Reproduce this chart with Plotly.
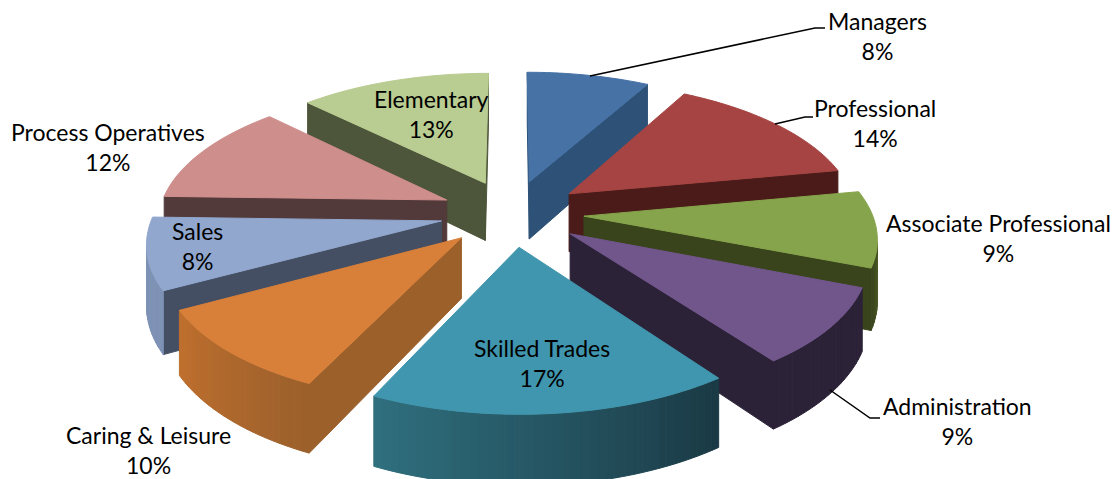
import math
import plotly.graph_objects as go

categories = ["Managers", "Professional", "Associate Professional", "Administration",
              "Skilled Trades", "Caring & Leisure", "Sales", "Process Operatives", "Elementary"]
values = [8, 14, 9, 9, 17, 10, 8.45, 12.05, 12.5]
top_colors = ["#4672A6", "#A54442", "#86A44B", "#71568C", "#4096AE", "#D8803A", "#91A7CE", "#CE8E8C", "#B9CC91"]
wall_colors = ["#2E5277", "#4A1B19", "#39431C", "#2C2238", "#1A3A45", "#9C602B", "#454F63", "#533A3A", "#4D553A"]
rim_start = ["#4672A6", "#A54442", "#6F8A3A", "#2C2238", "#30707F", "#C0702E", "#7E92B5", "#CE8E8C", "#9DB07A"]
rim_end = ["#2E5277", "#4A1B19", "#39431C", "#2C2238", "#1A3A45", "#9C602B", "#7E92B5", "#CE8E8C", "#9DB07A"]
label_xy = [(877, 36), (875, 123), (998, 238), (957, 421), (542, 363), (148, 450), (197, 246), (108, 147), (431, 114)]

CX, CY, SX, SY, K, H, EXPLODE = 512, 213, 288, 133, 0.14, 59, 0.25


def project(x, y, down):
    s = 1 / (1 + K * y)
    return CX + SX * x * s, CY - SY * y * s + down * H * s


def hexmix(a, b, t):
    pa = [int(a[i:i + 2], 16) for i in (1, 3, 5)]
    pb = [int(b[i:i + 2], 16) for i in (1, 3, 5)]
    return "rgb(%d,%d,%d)" % tuple(round(p + (q - p) * t) for p, q in zip(pa, pb))


def area(poly):
    return sum(poly[i][0] * poly[(i + 1) % len(poly)][1] - poly[(i + 1) % len(poly)][0] * poly[i][1]
               for i in range(len(poly))) / 2


fig = go.Figure()


def add_poly(poly, color):
    fig.add_trace(go.Scatter(
        x=[p[0] for p in poly] + [poly[0][0]], y=[p[1] for p in poly] + [poly[0][1]],
        mode="lines", fill="toself", fillcolor=color, line=dict(color=color, width=1, simplify=False),
        hoverinfo="skip", showlegend=False))


total = sum(values)
slices = []
cum = 0
for i, v in enumerate(values):
    a0 = 2 * math.pi * cum / total
    a1 = 2 * math.pi * (cum + v) / total
    cum += v
    mid = (a0 + a1) / 2
    slices.append((math.cos(mid), i, a0, a1, mid))

for _, i, a0, a1, mid in sorted(slices, reverse=True):
    ox, oy = EXPLODE * math.sin(mid), EXPLODE * math.cos(mid)
    n = max(6, int((a1 - a0) / math.radians(1.5)))
    angs = [a0 + (a1 - a0) * j / n for j in range(n + 1)]
    rim = [(ox + math.sin(a), oy + math.cos(a)) for a in angs]
    apex = (ox, oy)
    # radial walls
    for p, q in ((apex, rim[0]), (rim[-1], apex)):
        quad = [project(*p, 0), project(*q, 0), project(*q, 1), project(*p, 1)]
        if area(quad) < 0:
            add_poly(quad, wall_colors[i])
    # outer wall, shaded along the arc
    for j in range(n):
        p, q = rim[j], rim[j + 1]
        quad = [project(*p, 0), project(*p, 1), project(*q, 1), project(*q, 0)]
        if area(quad) > 0:
            add_poly(quad, hexmix(rim_end[i], rim_start[i], j / n) if math.sin(mid) < 0 or i == 4
                     else hexmix(rim_start[i], rim_end[i], j / n))
    add_poly([project(*apex, 0)] + [project(*p, 0) for p in rim], top_colors[i])

# leader lines
for xs, ys in (([590, 815, 825], [76, 28, 28]), ([775, 805, 813], [124, 117, 117]), ([830, 870, 880], [390, 418, 418])):
    fig.add_trace(go.Scatter(x=xs, y=ys, mode="lines", line=dict(color="black", width=1.5),
                             hoverinfo="skip", showlegend=False))

for name, v, (lx, ly) in zip(categories, values, label_xy):
    fig.add_annotation(x=lx, y=ly, text=f"{name}<br>{int(v / total * 100 + 0.5)}%", showarrow=False, align="center",
                       font=dict(family="Lato, 'Open Sans', sans-serif", size=23, color="black"))

fig.update_layout(width=1114, height=479, margin=dict(l=0, r=0, t=0, b=0),
                  paper_bgcolor="white", plot_bgcolor="white", showlegend=False,
                  xaxis=dict(range=[0, 1114], visible=False, fixedrange=True),
                  yaxis=dict(range=[479, 0], visible=False, fixedrange=True))
fig.write_html("out.html", config=dict(displayModeBar=False),
               post_script="document.body.style.margin='0';document.body.style.overflow='hidden';")
